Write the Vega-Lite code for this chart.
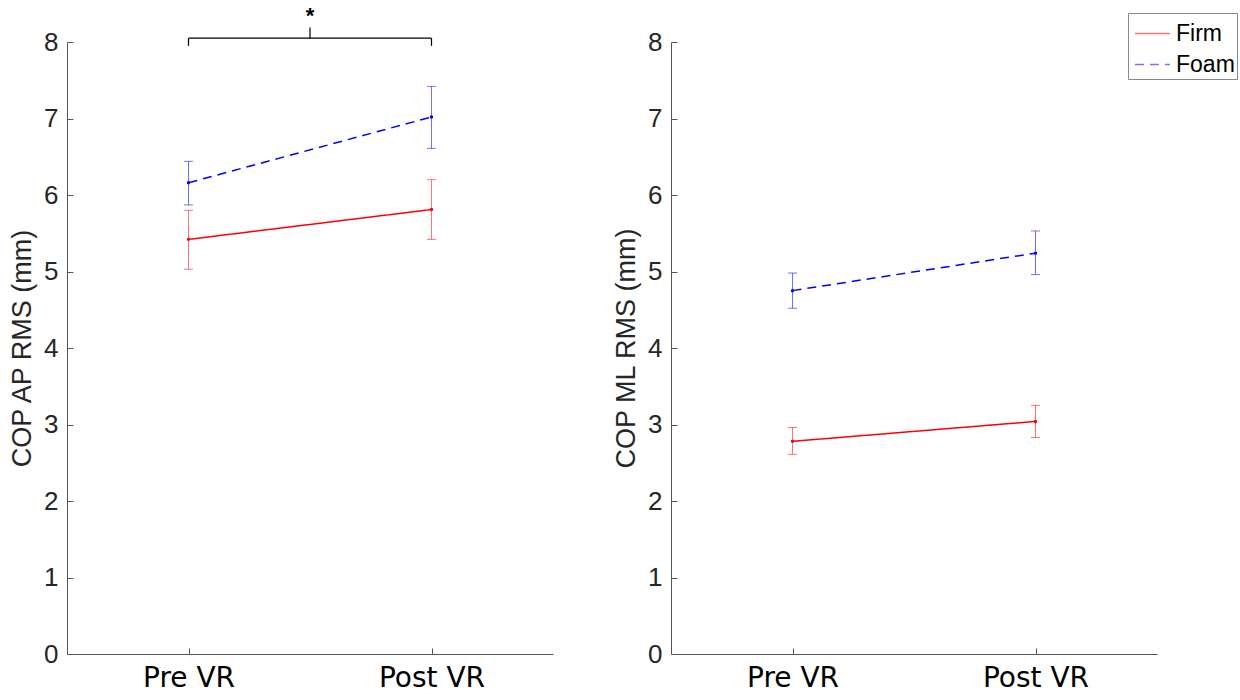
{
  "$schema": "https://vega.github.io/schema/vega-lite/v6.json",
  "background": "white",
  "padding": {"left": 8, "top": 4, "right": 5, "bottom": 5},
  "config": {
    "font": "Liberation Sans",
    "view": {"stroke": null},
    "axis": {
      "grid": false,
      "domainColor": "#555555",
      "tickColor": "#555555",
      "domainWidth": 1,
      "tickWidth": 1,
      "labelColor": "#262626",
      "titleColor": "#262626",
      "labelFont": "Liberation Sans",
      "titleFont": "Liberation Sans",
      "titleFontWeight": "normal"
    },
    "legend": {
      "orient": "none",
      "legendX": 1061,
      "legendY": -29,
      "strokeColor": "#888888",
      "fillColor": "white",
      "padding": 2,
      "labelFontSize": 23,
      "labelColor": "#000000",
      "symbolType": "stroke",
      "symbolSize": 1225,
      "symbolStrokeWidth": 1.5,
      "symbolOffset": 4,
      "rowPadding": -7,
      "labelOffset": 5
    }
  },
  "datasets": {
    "stats": [
      {"panel": "AP", "surface": "Firm", "cond": 1, "mean": 5.42, "lo": 5.03, "hi": 5.80},
      {"panel": "AP", "surface": "Firm", "cond": 2, "mean": 5.81, "lo": 5.42, "hi": 6.20},
      {"panel": "AP", "surface": "Foam", "cond": 1, "mean": 6.16, "lo": 5.87, "hi": 6.44},
      {"panel": "AP", "surface": "Foam", "cond": 2, "mean": 7.02, "lo": 6.61, "hi": 7.42},
      {"panel": "ML", "surface": "Firm", "cond": 1, "mean": 2.78, "lo": 2.61, "hi": 2.96},
      {"panel": "ML", "surface": "Firm", "cond": 2, "mean": 3.04, "lo": 2.83, "hi": 3.25},
      {"panel": "ML", "surface": "Foam", "cond": 1, "mean": 4.75, "lo": 4.52, "hi": 4.98},
      {"panel": "ML", "surface": "Foam", "cond": 2, "mean": 5.24, "lo": 4.96, "hi": 5.53}
    ],
    "bracket": [
      {"x": 1, "x2": 2, "y": 8.05, "y2": 8.05},
      {"x": 1, "x2": 1, "y": 7.95, "y2": 8.05},
      {"x": 2, "x2": 2, "y": 7.95, "y2": 8.05},
      {"x": 1.5, "x2": 1.5, "y": 8.05, "y2": 8.19}
    ],
    "star": [
      {"x": 1.5, "y": 8.34, "label": "*"}
    ]
  },
  "hconcat": [
    {
      "width": 486,
      "height": 612,
      "layer": [
        {
          "data": {"name": "stats"},
          "transform": [{"filter": "datum.panel == 'AP'"}],
          "layer": [
            {
              "mark": {"type": "rule", "strokeWidth": 1, "opacity": 0.55},
              "encoding": {
                "x": {"field": "cond", "type": "quantitative", "scale": {"domain": [0.5, 2.5], "nice": false, "zero": false},
                  "axis": {"values": [1, 2], "labelExpr": "datum.value == 1 ? 'Pre VR' : 'Post VR'", "title": null, "labelFont": "DejaVu Sans", "labelFontSize": 28, "labelColor": "#000000", "tickSize": -6, "labelPadding": 16}},
                "y": {"field": "lo", "type": "quantitative", "scale": {"domain": [0, 8], "nice": false},
                  "axis": {"values": [0, 1, 2, 3, 4, 5, 6, 7, 8], "format": "d", "title": "COP AP RMS (mm)", "titleFontSize": 27, "labelFontSize": 26, "tickSize": -6, "labelPadding": 15, "titlePadding": 7}},
                "y2": {"field": "hi"},
                "color": {"field": "surface", "type": "nominal", "scale": {"domain": ["Firm", "Foam"], "range": ["#ff0000", "#0000ff"]}, "title": null}
              }
            },
            {
              "mark": {"type": "tick", "orient": "horizontal", "size": 9, "thickness": 1, "opacity": 0.55},
              "encoding": {
                "x": {"field": "cond", "type": "quantitative"},
                "y": {"field": "lo", "type": "quantitative"},
                "color": {"field": "surface", "type": "nominal", "title": null}
              }
            },
            {
              "mark": {"type": "tick", "orient": "horizontal", "size": 9, "thickness": 1, "opacity": 0.55},
              "encoding": {
                "x": {"field": "cond", "type": "quantitative"},
                "y": {"field": "hi", "type": "quantitative"},
                "color": {"field": "surface", "type": "nominal", "title": null}
              }
            },
            {
              "mark": {"type": "line", "strokeWidth": 1.5},
              "encoding": {
                "x": {"field": "cond", "type": "quantitative"},
                "y": {"field": "mean", "type": "quantitative"},
                "color": {"field": "surface", "type": "nominal", "title": null},
                "strokeDash": {"field": "surface", "type": "nominal", "scale": {"domain": ["Firm", "Foam"], "range": [[1, 0], [9, 6]]}, "title": null}
              }
            },
            {
              "mark": {"type": "circle", "size": 12, "opacity": 1},
              "encoding": {
                "x": {"field": "cond", "type": "quantitative"},
                "y": {"field": "mean", "type": "quantitative"},
                "color": {"field": "surface", "type": "nominal", "title": null}
              }
            }
          ]
        },
        {
          "data": {"name": "bracket"},
          "mark": {"type": "rule", "color": "#000000", "strokeWidth": 1.2},
          "encoding": {
            "x": {"field": "x", "type": "quantitative"},
            "x2": {"field": "x2"},
            "y": {"field": "y", "type": "quantitative"},
            "y2": {"field": "y2"}
          }
        },
        {
          "data": {"name": "star"},
          "mark": {"type": "text", "fontSize": 22, "fontWeight": "bold", "color": "#000000", "baseline": "middle"},
          "encoding": {
            "x": {"field": "x", "type": "quantitative"},
            "y": {"field": "y", "type": "quantitative"},
            "text": {"field": "label"}
          }
        }
      ]
    },
    {
      "width": 486,
      "height": 612,
      "data": {"name": "stats"},
      "transform": [{"filter": "datum.panel == 'ML'"}],
      "layer": [
        {
          "mark": {"type": "rule", "strokeWidth": 1, "opacity": 0.55},
          "encoding": {
            "x": {"field": "cond", "type": "quantitative", "scale": {"domain": [0.5, 2.5], "nice": false, "zero": false},
              "axis": {"values": [1, 2], "labelExpr": "datum.value == 1 ? 'Pre VR' : 'Post VR'", "title": null, "labelFont": "DejaVu Sans", "labelFontSize": 28, "labelColor": "#000000", "tickSize": -6, "labelPadding": 16}},
            "y": {"field": "lo", "type": "quantitative", "scale": {"domain": [0, 8], "nice": false},
              "axis": {"values": [0, 1, 2, 3, 4, 5, 6, 7, 8], "format": "d", "title": "COP ML RMS (mm)", "titleFontSize": 27, "labelFontSize": 26, "tickSize": -6, "labelPadding": 15, "titlePadding": 7}},
            "y2": {"field": "hi"},
            "color": {"field": "surface", "type": "nominal", "scale": {"domain": ["Firm", "Foam"], "range": ["#ff0000", "#0000ff"]}, "title": null}
          }
        },
        {
          "mark": {"type": "tick", "orient": "horizontal", "size": 9, "thickness": 1, "opacity": 0.55},
          "encoding": {
            "x": {"field": "cond", "type": "quantitative"},
            "y": {"field": "lo", "type": "quantitative"},
            "color": {"field": "surface", "type": "nominal", "title": null}
          }
        },
        {
          "mark": {"type": "tick", "orient": "horizontal", "size": 9, "thickness": 1, "opacity": 0.55},
          "encoding": {
            "x": {"field": "cond", "type": "quantitative"},
            "y": {"field": "hi", "type": "quantitative"},
            "color": {"field": "surface", "type": "nominal", "title": null}
          }
        },
        {
          "mark": {"type": "line", "strokeWidth": 1.5},
          "encoding": {
            "x": {"field": "cond", "type": "quantitative"},
            "y": {"field": "mean", "type": "quantitative"},
            "color": {"field": "surface", "type": "nominal", "title": null},
            "strokeDash": {"field": "surface", "type": "nominal", "scale": {"domain": ["Firm", "Foam"], "range": [[1, 0], [9, 6]]}, "title": null}
          }
        },
        {
          "mark": {"type": "circle", "size": 12, "opacity": 1},
          "encoding": {
            "x": {"field": "cond", "type": "quantitative"},
            "y": {"field": "mean", "type": "quantitative"},
            "color": {"field": "surface", "type": "nominal", "title": null}
          }
        }
      ]
    }
  ],
  "spacing": 59
}
